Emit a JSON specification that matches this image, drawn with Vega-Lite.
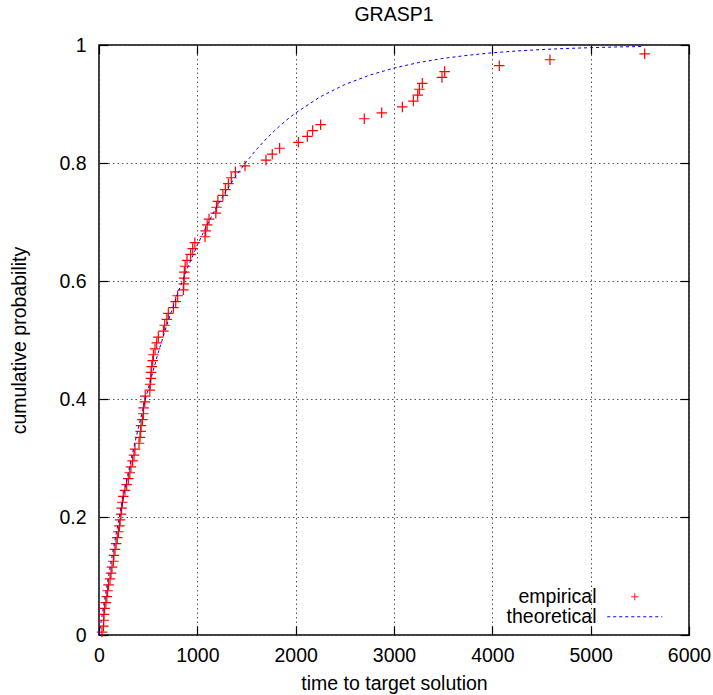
{
  "$schema": "https://vega.github.io/schema/vega-lite/v6.json",
  "width": 590,
  "height": 590,
  "autosize": "none",
  "padding": {"left": 99, "top": 45, "right": 24, "bottom": 60},
  "title": {"text": "GRASP1", "fontSize": 19.5, "fontWeight": "normal", "font": "Liberation Sans", "color": "black", "offset": 10},
  "config": {
    "font": "Liberation Sans",
    "view": {"stroke": "black", "strokeWidth": 1.5},
    "axis": {
      "labelFont": "Liberation Sans", "titleFont": "Liberation Sans",
      "labelFontSize": 19.5, "titleFontSize": 19.5, "titleFontWeight": "normal",
      "labelColor": "black", "titleColor": "black",
      "domain": false, "tickColor": "black", "tickSize": -9, "tickWidth": 1.2,
      "gridColor": "#555555", "gridDash": [1.5, 3], "gridWidth": 1, "gridOpacity": 1
    }
  },
  "datasets": {
    "emp": [
      {"time": 30, "prob": 0.005, "series": "empirical"},
      {"time": 45, "prob": 0.015, "series": "empirical"},
      {"time": 48, "prob": 0.025, "series": "empirical"},
      {"time": 50, "prob": 0.035, "series": "empirical"},
      {"time": 57, "prob": 0.045, "series": "empirical"},
      {"time": 70, "prob": 0.055, "series": "empirical"},
      {"time": 80, "prob": 0.065, "series": "empirical"},
      {"time": 88, "prob": 0.075, "series": "empirical"},
      {"time": 97, "prob": 0.085, "series": "empirical"},
      {"time": 112, "prob": 0.095, "series": "empirical"},
      {"time": 122, "prob": 0.105, "series": "empirical"},
      {"time": 132, "prob": 0.115, "series": "empirical"},
      {"time": 146, "prob": 0.125, "series": "empirical"},
      {"time": 152, "prob": 0.135, "series": "empirical"},
      {"time": 163, "prob": 0.145, "series": "empirical"},
      {"time": 174, "prob": 0.155, "series": "empirical"},
      {"time": 186, "prob": 0.165, "series": "empirical"},
      {"time": 197, "prob": 0.175, "series": "empirical"},
      {"time": 208, "prob": 0.185, "series": "empirical"},
      {"time": 215, "prob": 0.195, "series": "empirical"},
      {"time": 224, "prob": 0.205, "series": "empirical"},
      {"time": 230, "prob": 0.215, "series": "empirical"},
      {"time": 238, "prob": 0.225, "series": "empirical"},
      {"time": 247, "prob": 0.235, "series": "empirical"},
      {"time": 264, "prob": 0.245, "series": "empirical"},
      {"time": 281, "prob": 0.255, "series": "empirical"},
      {"time": 298, "prob": 0.265, "series": "empirical"},
      {"time": 313, "prob": 0.275, "series": "empirical"},
      {"time": 325, "prob": 0.285, "series": "empirical"},
      {"time": 342, "prob": 0.295, "series": "empirical"},
      {"time": 356, "prob": 0.305, "series": "empirical"},
      {"time": 366, "prob": 0.315, "series": "empirical"},
      {"time": 407, "prob": 0.325, "series": "empirical"},
      {"time": 417, "prob": 0.335, "series": "empirical"},
      {"time": 424, "prob": 0.345, "series": "empirical"},
      {"time": 428, "prob": 0.355, "series": "empirical"},
      {"time": 441, "prob": 0.365, "series": "empirical"},
      {"time": 451, "prob": 0.375, "series": "empirical"},
      {"time": 453, "prob": 0.385, "series": "empirical"},
      {"time": 466, "prob": 0.395, "series": "empirical"},
      {"time": 470, "prob": 0.405, "series": "empirical"},
      {"time": 517, "prob": 0.415, "series": "empirical"},
      {"time": 520, "prob": 0.425, "series": "empirical"},
      {"time": 527, "prob": 0.435, "series": "empirical"},
      {"time": 529, "prob": 0.445, "series": "empirical"},
      {"time": 536, "prob": 0.455, "series": "empirical"},
      {"time": 546, "prob": 0.465, "series": "empirical"},
      {"time": 553, "prob": 0.475, "series": "empirical"},
      {"time": 570, "prob": 0.485, "series": "empirical"},
      {"time": 587, "prob": 0.495, "series": "empirical"},
      {"time": 603, "prob": 0.505, "series": "empirical"},
      {"time": 655, "prob": 0.515, "series": "empirical"},
      {"time": 668, "prob": 0.525, "series": "empirical"},
      {"time": 690, "prob": 0.535, "series": "empirical"},
      {"time": 705, "prob": 0.545, "series": "empirical"},
      {"time": 757, "prob": 0.555, "series": "empirical"},
      {"time": 780, "prob": 0.565, "series": "empirical"},
      {"time": 800, "prob": 0.575, "series": "empirical"},
      {"time": 858, "prob": 0.585, "series": "empirical"},
      {"time": 862, "prob": 0.595, "series": "empirical"},
      {"time": 866, "prob": 0.605, "series": "empirical"},
      {"time": 868, "prob": 0.615, "series": "empirical"},
      {"time": 876, "prob": 0.625, "series": "empirical"},
      {"time": 895, "prob": 0.635, "series": "empirical"},
      {"time": 932, "prob": 0.645, "series": "empirical"},
      {"time": 953, "prob": 0.655, "series": "empirical"},
      {"time": 975, "prob": 0.665, "series": "empirical"},
      {"time": 1078, "prob": 0.675, "series": "empirical"},
      {"time": 1085, "prob": 0.685, "series": "empirical"},
      {"time": 1100, "prob": 0.695, "series": "empirical"},
      {"time": 1119, "prob": 0.705, "series": "empirical"},
      {"time": 1188, "prob": 0.715, "series": "empirical"},
      {"time": 1195, "prob": 0.725, "series": "empirical"},
      {"time": 1209, "prob": 0.735, "series": "empirical"},
      {"time": 1260, "prob": 0.745, "series": "empirical"},
      {"time": 1285, "prob": 0.755, "series": "empirical"},
      {"time": 1315, "prob": 0.765, "series": "empirical"},
      {"time": 1345, "prob": 0.775, "series": "empirical"},
      {"time": 1387, "prob": 0.785, "series": "empirical"},
      {"time": 1485, "prob": 0.795, "series": "empirical"},
      {"time": 1698, "prob": 0.805, "series": "empirical"},
      {"time": 1762, "prob": 0.815, "series": "empirical"},
      {"time": 1837, "prob": 0.825, "series": "empirical"},
      {"time": 2027, "prob": 0.835, "series": "empirical"},
      {"time": 2119, "prob": 0.845, "series": "empirical"},
      {"time": 2173, "prob": 0.855, "series": "empirical"},
      {"time": 2254, "prob": 0.865, "series": "empirical"},
      {"time": 2698, "prob": 0.875, "series": "empirical"},
      {"time": 2875, "prob": 0.885, "series": "empirical"},
      {"time": 3085, "prob": 0.895, "series": "empirical"},
      {"time": 3197, "prob": 0.905, "series": "empirical"},
      {"time": 3241, "prob": 0.915, "series": "empirical"},
      {"time": 3258, "prob": 0.925, "series": "empirical"},
      {"time": 3288, "prob": 0.935, "series": "empirical"},
      {"time": 3488, "prob": 0.945, "series": "empirical"},
      {"time": 3515, "prob": 0.955, "series": "empirical"},
      {"time": 4071, "prob": 0.965, "series": "empirical"},
      {"time": 4586, "prob": 0.975, "series": "empirical"},
      {"time": 5549, "prob": 0.985, "series": "empirical"}
    ],
    "theo": [
      {"time": 0, "prob": 0, "series": "theoretical"},
      {"time": 25, "prob": 0.0267, "series": "theoretical"},
      {"time": 50, "prob": 0.0526, "series": "theoretical"},
      {"time": 75, "prob": 0.0779, "series": "theoretical"},
      {"time": 100, "prob": 0.1025, "series": "theoretical"},
      {"time": 150, "prob": 0.1497, "series": "theoretical"},
      {"time": 200, "prob": 0.1944, "series": "theoretical"},
      {"time": 250, "prob": 0.2368, "series": "theoretical"},
      {"time": 300, "prob": 0.2770, "series": "theoretical"},
      {"time": 350, "prob": 0.3150, "series": "theoretical"},
      {"time": 400, "prob": 0.3510, "series": "theoretical"},
      {"time": 450, "prob": 0.3852, "series": "theoretical"},
      {"time": 500, "prob": 0.4176, "series": "theoretical"},
      {"time": 600, "prob": 0.4772, "series": "theoretical"},
      {"time": 700, "prob": 0.5308, "series": "theoretical"},
      {"time": 800, "prob": 0.5789, "series": "theoretical"},
      {"time": 900, "prob": 0.6221, "series": "theoretical"},
      {"time": 1000, "prob": 0.6608, "series": "theoretical"},
      {"time": 1100, "prob": 0.6955, "series": "theoretical"},
      {"time": 1200, "prob": 0.7267, "series": "theoretical"},
      {"time": 1300, "prob": 0.7547, "series": "theoretical"},
      {"time": 1400, "prob": 0.7798, "series": "theoretical"},
      {"time": 1500, "prob": 0.8024, "series": "theoretical"},
      {"time": 1600, "prob": 0.8227, "series": "theoretical"},
      {"time": 1700, "prob": 0.8409, "series": "theoretical"},
      {"time": 1800, "prob": 0.8571, "series": "theoretical"},
      {"time": 1900, "prob": 0.8718, "series": "theoretical"},
      {"time": 2000, "prob": 0.8849, "series": "theoretical"},
      {"time": 2250, "prob": 0.9122, "series": "theoretical"},
      {"time": 2500, "prob": 0.9330, "series": "theoretical"},
      {"time": 2750, "prob": 0.9488, "series": "theoretical"},
      {"time": 3000, "prob": 0.9610, "series": "theoretical"},
      {"time": 3250, "prob": 0.9702, "series": "theoretical"},
      {"time": 3500, "prob": 0.9773, "series": "theoretical"},
      {"time": 3750, "prob": 0.9826, "series": "theoretical"},
      {"time": 4000, "prob": 0.9868, "series": "theoretical"},
      {"time": 4250, "prob": 0.9899, "series": "theoretical"},
      {"time": 4500, "prob": 0.9923, "series": "theoretical"},
      {"time": 4750, "prob": 0.9941, "series": "theoretical"},
      {"time": 5000, "prob": 0.9955, "series": "theoretical"},
      {"time": 5250, "prob": 0.9966, "series": "theoretical"},
      {"time": 5540, "prob": 0.9975, "series": "theoretical"}
    ]
  },
  "resolve": {"axis": {"x": "independent", "y": "independent"}},
  "layer": [
    {
      "data": {"name": "emp"},
      "mark": {"type": "point", "filled": false, "size": 225, "strokeWidth": 1.2, "opacity": 1},
      "encoding": {
        "x": {"field": "time", "type": "quantitative",
              "scale": {"domain": [0, 6000], "nice": false, "zero": false},
              "axis": {"orient": "bottom", "title": "time to target solution", "values": [0, 1000, 2000, 3000, 4000, 5000, 6000], "format": "d", "grid": true, "labelPadding": 20, "titlePadding": 10, "labelFlush": false}},
        "y": {"field": "prob", "type": "quantitative",
              "scale": {"domain": [0, 1], "nice": false},
              "axis": {"orient": "left", "title": "cumulative probability", "values": [0, 0.2, 0.4, 0.6, 0.8, 1], "labelExpr": "toString(datum.value)", "grid": true, "labelPadding": 22, "titlePadding": 29, "labelFlush": false}},
        "shape": {"field": "series", "type": "nominal",
                  "scale": {"domain": ["empirical", "theoretical"], "range": ["M-0.7,0L0.7,0M0,-0.7L0,0.7", "M-5.5,0L5.5,0"]}},
        "strokeDash": {"field": "series", "type": "nominal",
                  "scale": {"domain": ["empirical", "theoretical"], "range": [[1, 0], [3, 3]]}},
        "color": {"field": "series", "type": "nominal",
                  "scale": {"domain": ["empirical", "theoretical"], "range": ["#ff0000", "#0000ff"]},
                  "legend": {
                    "title": null, "orient": "none", "legendX": 522, "legendY": 538, "padding": 4,
                    "fillColor": "white", "labelFont": "Liberation Sans", "labelFontSize": 19.5, "labelColor": "black",
                    "labelAlign": "right", "labelOffset": -48, "symbolSize": 100, "symbolStrokeWidth": 1, "rowPadding": -8
                  }}
      }
    },
    {
      "data": {"name": "theo"},
      "mark": {"type": "line", "strokeDash": [3, 3], "strokeWidth": 1, "color": "#0000ff"},
      "encoding": {
        "x": {"field": "time", "type": "quantitative",
              "axis": {"orient": "top", "title": null, "labels": false, "grid": false, "values": [0, 1000, 2000, 3000, 4000, 5000, 6000]}},
        "y": {"field": "prob", "type": "quantitative",
              "axis": {"orient": "right", "title": null, "labels": false, "grid": false, "values": [0, 0.2, 0.4, 0.6, 0.8, 1]}}
      }
    }
  ]
}
